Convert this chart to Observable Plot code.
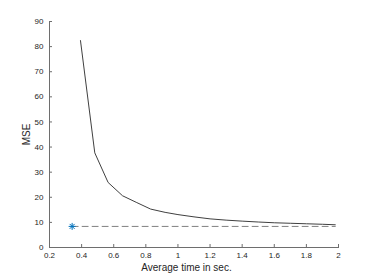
<!DOCTYPE html>
<html>
<head>
<meta charset="utf-8">
<script src="https://cdn.jsdelivr.net/npm/d3@7"></script>
<script src="https://cdn.jsdelivr.net/npm/@observablehq/plot@0.6"></script>
<style>
  html, body { margin: 0; padding: 0; background: #fff; }
</style>
</head>
<body>
<div id="chart"></div>
<script>
const timeSec = [0.393, 0.482, 0.565, 0.655, 0.74, 0.83, 0.92, 1.0, 1.1, 1.2, 1.3, 1.4, 1.5, 1.6, 1.7, 1.8, 1.9, 1.98];
const mse     = [82.4, 37.7, 25.9, 20.6, 18.0, 15.3, 14.0, 13.1, 12.2, 11.4, 10.9, 10.5, 10.15, 9.85, 9.65, 9.45, 9.25, 9.05];
const refTime = [0.341, 1.98];
const refMse = [8.4, 8.4];
const starTime = [0.341];
const starMse = [8.4];
const xTicks = [0.2, 0.4, 0.6, 0.8, 1, 1.2, 1.4, 1.6, 1.8, 2];
const yTicks = [0, 10, 20, 30, 40, 50, 60, 70, 80, 90];
const xLabel = "Average time in sec.";
const yLabel = "MSE";

const curve = timeSec.map((t, i) => ({t, v: mse[i]}));
const ref = refTime.map((t, i) => ({t, v: refMse[i]}));
const star = starTime.map((t, i) => ({t, v: starMse[i]}));

const star8 = {
  draw(context, size) {
    const r = Math.sqrt(size / Math.PI);
    for (let k = 0; k < 4; ++k) {
      const a = k * Math.PI / 4;
      context.moveTo(r * Math.cos(a), r * Math.sin(a));
      context.lineTo(-r * Math.cos(a), -r * Math.sin(a));
    }
  }
};

const axisColor = "#6e6e6e";
const textColor = "#262626";
const chart = Plot.plot({
  width: 374,
  height: 277,
  marginLeft: 49,
  marginRight: 36,
  marginTop: 21,
  marginBottom: 30,
  style: { fontFamily: "'Liberation Sans', Arial, sans-serif", fontSize: "8px", color: textColor, background: "#fff" },
  x: { domain: [0.2, 2] },
  y: { domain: [0, 90] },
  marks: [
    Plot.axisX({ ticks: xTicks, tickSize: -3, tickPadding: 8, tickFormat: d => String(+d.toFixed(1)), stroke: axisColor, fill: textColor, label: null }),
    Plot.axisY({ ticks: yTicks, tickSize: -3, tickPadding: 9, stroke: axisColor, fill: textColor, label: null }),
    Plot.text([xLabel], { text: d => d, frameAnchor: "bottom", lineAnchor: "top", dy: 16.3, dx: -7.5, fontSize: 10, fill: textColor }),
    Plot.text([yLabel], { text: d => d, frameAnchor: "left", lineAnchor: "middle", textAnchor: "middle", rotate: -90, dx: -23, fontSize: 10, fill: textColor }),
    Plot.frame({ anchor: "left", stroke: axisColor }),
    Plot.frame({ anchor: "bottom", stroke: axisColor }),
    Plot.line(ref, { x: "t", y: "v", stroke: "#808080", strokeWidth: 1, strokeDasharray: "6,4" }),
    Plot.line(curve, { x: "t", y: "v", stroke: "#404040", strokeWidth: 1 }),
    Plot.dot(star, { x: "t", y: "v", symbol: star8, r: 3.5, stroke: "#0072BD", strokeWidth: 1 })
  ]
});
document.getElementById("chart").appendChild(chart);
</script>
</body>
</html>
